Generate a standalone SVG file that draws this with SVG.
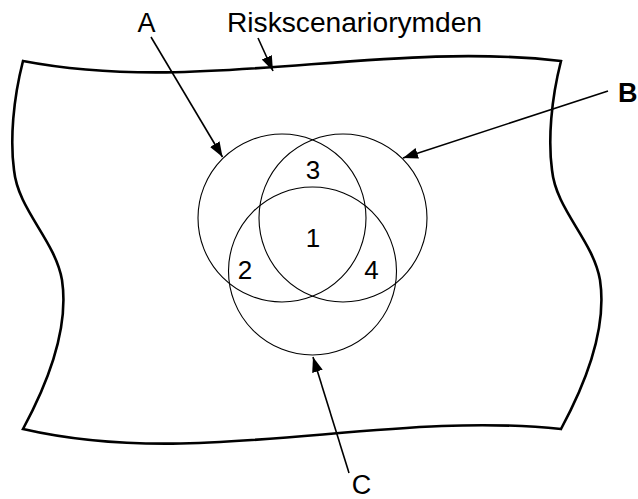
<svg xmlns="http://www.w3.org/2000/svg" width="638" height="499" viewBox="0 0 638 499">
  <style>
    .bg { fill: #ffffff; }
    .frame { fill: none; stroke: #000; stroke-width: 2.6; stroke-linejoin: miter; }
    .set { fill: none; stroke: #000; stroke-width: 1.1; }
    .conn { fill: none; stroke: #000; stroke-width: 1.6; marker-end: url(#arrow); }
    .lbl { font-family: "Liberation Sans", Arial, sans-serif; font-size: 27px; fill: #000; }
    .num { font-family: "Liberation Sans", Arial, sans-serif; font-size: 26px; fill: #000; text-anchor: middle; }
    .bold { font-weight: bold; }
  </style>
  <defs>
    <marker id="arrow" markerUnits="userSpaceOnUse" markerWidth="16" markerHeight="12" refX="15" refY="5.5" orient="auto">
      <path d="M0,0 L15,5.5 L0,11 z" fill="#000"/>
    </marker>
  </defs>
  <rect class="bg" x="0" y="0" width="638" height="499"/>

  <g id="riskscenariorymden">
    <path class="frame" d="M23,61 C200,95 380,40 561,61 C551,100 548,140 552,170 C556,210 593,240 600,280 C606,320 593,370 561,429 C380,410 200,470 23,429 C55,370 68,320 62,280 C55,240 18,210 14,170 C10,140 13,100 23,61 Z"/>
  </g>

  <g id="setA">
    <circle class="set" cx="282" cy="218" r="84"/>
  </g>
  <g id="setB">
    <circle class="set" cx="343" cy="218" r="84"/>
  </g>
  <g id="setC">
    <circle class="set" cx="312.5" cy="271" r="84"/>
  </g>

  <g id="regions">
    <text class="num" x="313" y="179">3</text>
    <text class="num" x="313" y="247">1</text>
    <text class="num" x="245" y="279">2</text>
    <text class="num" x="371.5" y="279">4</text>
  </g>

  <g id="connectors">
    <line class="conn" x1="151" y1="37" x2="222.5" y2="157"/>
    <line class="conn" x1="258" y1="38" x2="273" y2="71"/>
    <line class="conn" x1="608" y1="91" x2="403" y2="158"/>
    <line class="conn" x1="349" y1="473" x2="313" y2="357"/>
  </g>

  <g id="labels">
    <text class="lbl" x="146.5" y="32" text-anchor="middle">A</text>
    <text class="lbl" x="227" y="32" textLength="255" lengthAdjust="spacingAndGlyphs">Riskscenariorymden</text>
    <text class="lbl bold" x="618" y="102">B</text>
    <text class="lbl" x="361.5" y="494" text-anchor="middle">C</text>
  </g>
</svg>
